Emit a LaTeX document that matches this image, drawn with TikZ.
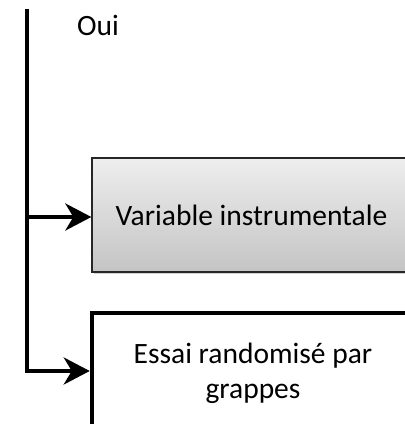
\documentclass[tikz,border=0pt]{standalone}
\usepackage{fontspec}
\setmainfont{Carlito}
\usetikzlibrary{arrows.meta,shadows}
\definecolor{boxtop}{RGB}{238,238,238}
\definecolor{boxbot}{RGB}{196,196,196}
\tikzset{
  flowline/.style={line width=4pt,line join=miter},
  flowarrow/.style={flowline,-{Stealth[length=26pt,width=27pt,inset=8pt]}},
  graybox/.style={draw=black!85,line width=1.3pt,top color=boxtop,bottom color=boxbot,
    drop shadow={shadow xshift=2pt,shadow yshift=-2pt,opacity=0.35},
    minimum width=319pt,minimum height=114pt,inner sep=0pt},
  whitebox/.style={draw=black,line width=4.5pt,fill=white,
    minimum width=322pt,minimum height=120pt,inner sep=0pt,align=center},
  lbl/.style={font=\fontsize{29.5pt}{35pt}\selectfont,inner sep=0pt}
}
\begin{document}
\begin{tikzpicture}[x=1pt,y=-1pt]
\useasboundingbox (0,0) rectangle (405,424);
\clip (0,0) rectangle (405,424);
\node[graybox,lbl] (box1) at (251.5,215) {Variable instrumentale};
\node[whitebox,lbl] (box2) at (253,373) {Essai randomisé par\\grappes};
\node[lbl,anchor=base west] (oui) at (77,35) {Oui};
\coordinate (top) at (26.5,9);
\coordinate (corner) at (26.5,371);
\draw[flowarrow] (top) -- (corner) -- (corner -| box2.west);
\coordinate (a1) at ([yshift=-2pt]box1.west);
\draw[flowarrow] (top |- a1) -- (a1);
\end{tikzpicture}
\end{document}
